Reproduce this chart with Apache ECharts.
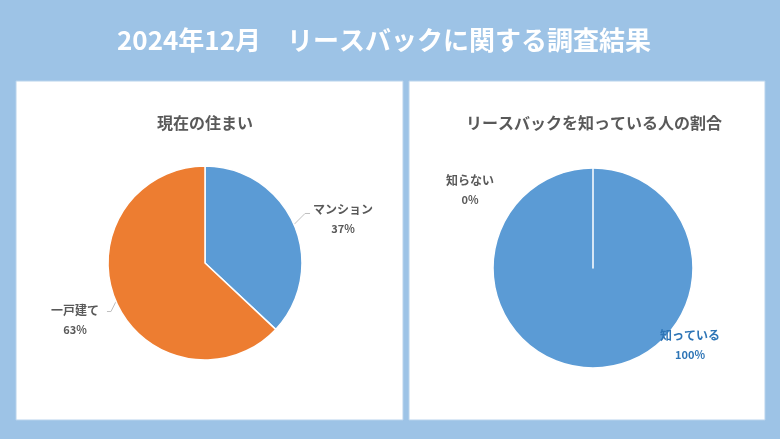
<!DOCTYPE html>
<html>
<head>
<meta charset="utf-8">
<script src="https://cdn.jsdelivr.net/npm/echarts@6/dist/echarts.min.js"></script>
<style>
html,body{margin:0;padding:0;background:#9dc3e6;}
#c{width:780px;height:439px;}
</style>
</head>
<body>
<div id="c"></div>
<script>
// ---- data ----
const mainTitle = '2024年12月　リースバックに関する調査結果';
const leftTitle = '現在の住まい';
const leftCategories = ['マンション', '一戸建て'];
const leftValues = [37, 63];
const rightTitle = 'リースバックを知っている人の割合';
const rightCategories = ['知っている', '知らない'];
const rightValues = [100, 0];

const FONT = '"Noto Sans CJK JP", "Noto Sans", sans-serif';
const chart = echarts.init(document.getElementById('c'), null, {renderer: 'canvas'});

const labelRich = {
  n: {fontFamily: FONT, fontSize: 12, fontWeight: 'bold', color: '#595959', width: 76, align: 'center', lineHeight: 20},
  p: {fontFamily: FONT, fontSize: 11, fontWeight: 'bold', color: '#595959', width: 76, align: 'center', lineHeight: 20}
};
const labelRichBlue = {
  n: Object.assign({}, labelRich.n, {color: '#2e75b6'}),
  p: Object.assign({}, labelRich.p, {color: '#2e75b6'})
};
const fmt = p => '{n|' + p.name + '}\n{p|' + p.percent.toFixed(0) + '%}';

const option = {
  backgroundColor: '#9dc3e6',
  animation: false,
  graphic: [
    {type: 'rect', shape: {x: 16, y: 81, width: 387, height: 339}, style: {fill: '#fff', stroke: '#b8d3ec', lineWidth: 1}, z: -10},
    {type: 'rect', shape: {x: 409, y: 81, width: 356, height: 339}, style: {fill: '#fff', stroke: '#b8d3ec', lineWidth: 1}, z: -10}
  ],
  title: [
    {text: mainTitle, left: 112, top: 22, textStyle: {fontFamily: FONT, fontSize: 26, fontWeight: 'bold', color: '#ffffff'}},
    {text: leftTitle, left: 200, top: 110, textAlign: 'center', textStyle: {fontFamily: FONT, fontSize: 16, fontWeight: 'bold', color: '#595959'}},
    {text: rightTitle, left: 589, top: 110, textAlign: 'center', textStyle: {fontFamily: FONT, fontSize: 16, fontWeight: 'bold', color: '#595959'}}
  ],
  series: [
    {
      type: 'pie',
      center: [205, 263],
      radius: 97,
      startAngle: 90,
      clockwise: true,
      itemStyle: {borderColor: '#fff', borderWidth: 1.5},
      label: {show: true, position: 'outside', formatter: fmt, rich: labelRich},
      labelLine: {show: true, length: 12, length2: 5, lineStyle: {color: '#bfbfbf', width: 1}},
      labelLayout: function (p) {
        const s = p.labelLinePoints ? p.labelLinePoints[0] : null;
        if (p.dataIndex === 0) {
          const pts = s ? [s, [s[0] + 11, s[1] - 11], [s[0] + 16, s[1] - 11]] : undefined;
          return {x: 343, y: 219, align: 'center', verticalAlign: 'middle', labelLinePoints: pts};
        }
        const pts = s ? [s, [s[0] - 5, s[1] + 10], [s[0] - 9, s[1] + 10]] : undefined;
        return {x: 75, y: 320, align: 'center', verticalAlign: 'middle', labelLinePoints: pts};
      },
      data: leftCategories.map((c, i) => ({name: c, value: leftValues[i], itemStyle: {color: ['#5b9bd5', '#ed7d31'][i]}}))
    },
    {
      type: 'pie',
      center: [593, 268],
      radius: 100,
      startAngle: 90,
      clockwise: true,
      itemStyle: {borderColor: '#fff', borderWidth: 1.5},
      label: {show: true, position: 'outside', formatter: fmt},
      labelLine: {show: false},
      labelLayout: function (p) {
        if (p.dataIndex === 0) return {x: 690, y: 345, align: 'center', verticalAlign: 'middle'};
        return {x: 470, y: 190, align: 'center', verticalAlign: 'middle'};
      },
      data: rightCategories.map((c, i) => ({
        name: c, value: rightValues[i],
        itemStyle: {color: '#5b9bd5'},
        label: {rich: i === 0 ? labelRichBlue : labelRich}
      }))
    }
  ]
};
chart.setOption(option);
</script>
</body>
</html>
